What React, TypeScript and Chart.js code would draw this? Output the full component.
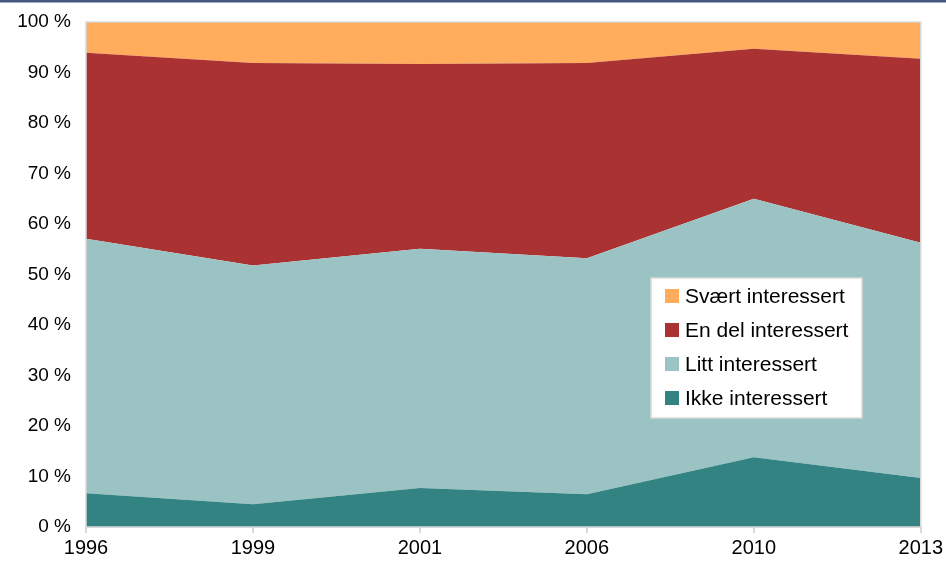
import React, { useEffect, useRef } from "react";
import { Chart, registerables } from "chart.js";

Chart.register(...registerables);

const years = ["1996", "1999", "2001", "2006", "2010", "2013"];
const ikke = [6.7, 4.5, 7.7, 6.5, 13.8, 9.7];
const litt = [50.4, 47.3, 47.4, 46.7, 51.2, 46.6];
const enDel = [36.8, 40.1, 36.6, 38.7, 29.7, 36.4];
const svaert = [6.1, 8.1, 8.3, 8.1, 5.3, 7.3];

const seriesNames = ["Ikke interessert", "Litt interessert", "En del interessert", "Svært interessert"];
const seriesColors = ["#338383", "#9bc3c3", "#aa3233", "#ffac5c"];
const FONT = "'Liberation Sans', Arial, sans-serif";

const framePlugin = {
  id: "frame",
  afterDraw(chart: any) {
    const { ctx, chartArea } = chart;
    ctx.save();
    ctx.fillStyle = "#44587f";
    ctx.fillRect(0, 0, chart.width, 2.5);
    ctx.strokeStyle = "#d9d9d9";
    ctx.lineWidth = 1.5;
    ctx.strokeRect(chartArea.left, chartArea.top, chartArea.right - chartArea.left, chartArea.bottom - chartArea.top);
    const lx = 651, ly = 278, lw = 211, lh = 140;
    ctx.fillStyle = "#ffffff";
    ctx.fillRect(lx, ly, lw, lh);
    ctx.strokeStyle = "#d9d9d9";
    ctx.lineWidth = 1.5;
    ctx.strokeRect(lx, ly, lw, lh);
    ctx.font = `21px ${FONT}`;
    ctx.textBaseline = "middle";
    ctx.textAlign = "left";
    const order = [3, 2, 1, 0];
    order.forEach((si, i) => {
      const cy = 296 + i * 34;
      ctx.fillStyle = seriesColors[si];
      ctx.fillRect(665, cy - 7, 14, 14);
      ctx.fillStyle = "#000000";
      ctx.fillText(seriesNames[si], 685, cy + 1);
    });
    ctx.restore();
  },
};

export default function App() {
  const ref = useRef<HTMLCanvasElement>(null);
  useEffect(() => {
    document.body.style.margin = "0";
    const values = [ikke, litt, enDel, svaert];
    const chart = new Chart(ref.current!, {
      type: "line",
      data: {
        labels: years,
        datasets: values.map((v, i) => ({
          label: seriesNames[i],
          data: v,
          backgroundColor: seriesColors[i],
          borderColor: seriesColors[i],
          borderWidth: 0,
          pointRadius: 0,
          fill: i === 0 ? "origin" : "-1",
          tension: 0,
        })),
      },
      options: {
        animation: false,
        responsive: false,
        layout: { padding: { left: 0, right: 25, top: 22, bottom: 0 } },
        plugins: { legend: { display: false }, tooltip: { enabled: false } },
        scales: {
          x: {
            offset: false,
            grid: { display: true, drawOnChartArea: false, drawTicks: true, color: "#d9d9d9", lineWidth: 2, tickLength: 6 },
            border: { display: true, color: "#d9d9d9", width: 2 },
            ticks: { color: "#000", font: { family: FONT, size: 20 }, padding: 3, maxRotation: 0 },
            afterFit(scale: any) { scale.height = 35; },
          },
          y: {
            stacked: true,
            min: 0,
            max: 100,
            grid: { display: false },
            border: { display: false },
            ticks: {
              stepSize: 10,
              color: "#000",
              font: { family: FONT, size: 19 },
              padding: 7,
              callback: (v: any) => `${v} %`,
            },
            afterFit(scale: any) { scale.width = 86; },
          },
        },
      },
      plugins: [framePlugin],
    });
    return () => chart.destroy();
  }, []);
  return (
    <div style={{ width: 946, height: 562 }}>
      <canvas ref={ref} width={946} height={562} style={{ display: "block" }} />
    </div>
  );
}
